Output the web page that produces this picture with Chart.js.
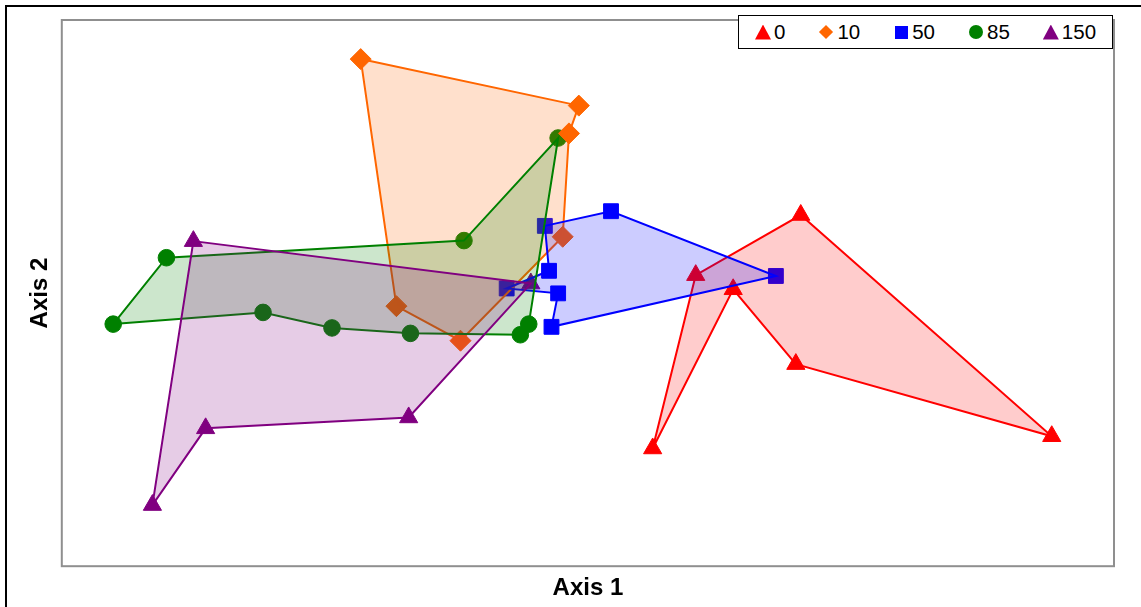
<!DOCTYPE html>
<html>
<head>
<meta charset="utf-8">
<title>Axis 1 / Axis 2</title>
<script src="https://cdn.jsdelivr.net/npm/chart.js@4/dist/chart.umd.min.js"></script>
<style>
    html, body { margin: 0; padding: 0; background: #fff; overflow: hidden; }
    #wrap { position: relative; width: 1141px; height: 607px; overflow: hidden; }
    #frame { position: absolute; left: 5px; top: 5px; width: 1300px; height: 800px;
             border-left: 2px solid #000; border-top: 2px solid #000; }
    #chart { position: absolute; left: 0; top: 0; }
    #legend { position: absolute; left: 738px; top: 15px; width: 375px; height: 34px;
              box-sizing: border-box; border: 1px solid #000; background: #fff;
              display: flex; align-items: center; padding-left: 16px;
              font-family: 'Liberation Sans', Arial, sans-serif; font-size: 20.5px; color: #000; }
    .item { display: flex; align-items: center; margin-right: 33px; }
    .sym { width: 16px; height: 16px; margin-right: 3px; display: flex; align-items: center; justify-content: center; }
    .sym i { display: block; }
    .triangle i { width: 16px; height: 15px; clip-path: polygon(50% 0, 100% 100%, 0 100%); }
    .rectRot i { width: 10px; height: 10px; transform: rotate(45deg); }
    .rect i { width: 13px; height: 13px; }
    .circle i { width: 14px; height: 14px; border-radius: 50%; }
</style>
</head>
<body>
<div id="wrap">
    <div id="frame"></div>
    <canvas id="chart" width="1141" height="607"></canvas>
    <div id="legend"></div>
</div>
<script>
// groups (legend labels) and styling per group
const groups = ['0', '10', '50', '85', '150'];
const lineColors = ['#ff0000', '#ff6600', '#0000ff', '#008000', '#800080'];
const fillColors = ['rgba(255,0,0,0.2)', 'rgba(255,102,0,0.2)', 'rgba(0,0,255,0.2)', 'rgba(0,128,0,0.2)', 'rgba(128,0,128,0.2)'];
const markerStyles = ['triangle', 'rectRot', 'rect', 'circle', 'triangle'];
const markerRadius = [10.5, 10.5, 10.5, 8.3, 10.5];
// which hull lies on top (lower = drawn later)
const hullOrder = [5, 4, 3, 2, 1];

// ordination scores, in hull order
const x0 = [0.185, 0.308, 0.608, 1.325, 0.594, 0.415];
const y0 = [-0.571, 0.066, 0.287, -0.526, -0.261, 0.014];

const x10 = [-0.649, -0.026, -0.054, -0.072, -0.364, -0.547];
const y10 = [0.860, 0.689, 0.587, 0.207, -0.175, -0.048];

const x50 = [-0.123, 0.066, 0.537, -0.104, -0.085, -0.232, -0.111];
const y50 = [0.247, 0.301, 0.063, -0.124, -0.001, 0.017, 0.082];

const x85 = [-1.356, -1.204, -0.354, -0.085, -0.169, -0.193, -0.507, -0.731, -0.928];
const y85 = [-0.114, 0.130, 0.193, 0.570, -0.114, -0.153, -0.148, -0.128, -0.071];

const x150 = [-1.127, -0.163, -0.512, -1.092, -1.244];
const y150 = [0.191, 0.035, -0.457, -0.497, -0.779];

const xs = [x0, x10, x50, x85, x150];
const ys = [y0, y10, y50, y85, y150];

const FONT = "'Liberation Sans', Arial, sans-serif";

function toPoints(xv, yv) {
    return xv.map((x, i) => ({ x: x, y: yv[i] }));
}

const datasets = [];
groups.forEach((g, i) => {
    const pts = toPoints(xs[i], ys[i]);
    // hull outline + fill
    datasets.push({
        label: g + ' hull',
        data: pts.concat([pts[0]]),
        borderColor: lineColors[i],
        backgroundColor: fillColors[i],
        borderWidth: 2,
        pointRadius: 0,
        fill: 'shape',
        tension: 0,
        order: hullOrder[i]
    });
});
groups.forEach((g, i) => {
    datasets.push({
        label: g,
        data: toPoints(xs[i], ys[i]),
        showLine: false,
        fill: false,
        pointStyle: markerStyles[i],
        pointRadius: markerRadius[i],
        pointBackgroundColor: lineColors[i],
        pointBorderColor: lineColors[i],
        pointBorderWidth: 1,
        order: 10
    });
});

const plotFrame = {
    id: 'plotFrame',
    beforeDatasetsDraw(chart) {
        const { ctx, chartArea: a } = chart;
        ctx.save();
        ctx.strokeStyle = '#8f8f8f';
        ctx.lineWidth = 2;
        ctx.strokeRect(a.left - 1, a.top - 1, a.right - a.left + 2, a.bottom - a.top + 2);
        ctx.restore();
    }
};

new Chart(document.getElementById('chart').getContext('2d'), {
    type: 'line',
    data: { datasets: datasets },
    options: {
        responsive: false,
        animation: false,
        layout: { padding: { left: 22, right: 28, top: 21, bottom: 1 } },
        plugins: {
            legend: { display: false },
            tooltip: { enabled: false }
        },
        scales: {
            x: {
                type: 'linear',
                min: -1.5,
                max: 1.5,
                grid: { display: false, drawTicks: false },
                border: { display: false },
                ticks: { display: false },
                title: {
                    display: true,
                    text: 'Axis 1',
                    color: '#000',
                    font: { family: FONT, size: 24, weight: 'bold' },
                    padding: { top: 9, bottom: 3 }
                }
            },
            y: {
                type: 'linear',
                min: -1,
                max: 1,
                grid: { display: false, drawTicks: false },
                border: { display: false },
                ticks: { display: false },
                title: {
                    display: true,
                    text: 'Axis 2',
                    color: '#000',
                    font: { family: FONT, size: 24, weight: 'bold' },
                    padding: { top: 4, bottom: 8 }
                }
            }
        }
    },
    plugins: [plotFrame]
});

// legend built from the same arrays
const legend = document.getElementById('legend');
groups.forEach((g, i) => {
    const item = document.createElement('div');
    item.className = 'item';
    item.innerHTML = '<span class="sym ' + markerStyles[i] + '"><i style="background:' + lineColors[i] + '"></i></span><span>' + g + '</span>';
    legend.appendChild(item);
});
</script>
</body>
</html>
